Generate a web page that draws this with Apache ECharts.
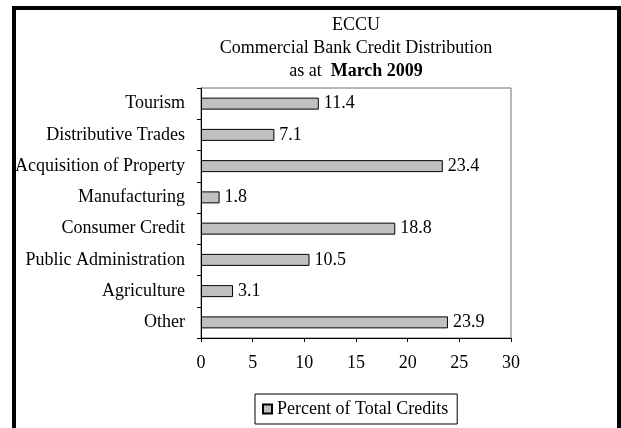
<!DOCTYPE html>
<html>
<head>
<meta charset="utf-8">
<script src="https://cdn.jsdelivr.net/npm/echarts@6/dist/echarts.min.js"></script>
<style>
  html, body { margin: 0; padding: 0; background: #fff; }
  #chart { width: 621px; height: 428px; }
</style>
</head>
<body>
<div id="chart"></div>
<script>
// Sectors, top to bottom
const categories = [
  'Tourism',
  'Distributive Trades',
  'Acquisition of Property',
  'Manufacturing',
  'Consumer Credit',
  'Public Administration',
  'Agriculture',
  'Other'
];
// Share of total commercial bank credit, per cent
const creditShare = [11.4, 7.1, 23.4, 1.8, 18.8, 10.5, 3.1, 23.9];
const seriesName = 'Percent of Total Credits';
const titleLines = ['ECCU', 'Commercial Bank Credit Distribution', 'as at  ', 'March 2009'];
const xTicks = { min: 0, max: 30, interval: 5 };

const FONT = "'Liberation Serif', 'Times New Roman', serif";
const FS = 18;

const chart = echarts.init(document.getElementById('chart'), null, { renderer: 'canvas' });

chart.setOption({
  animation: false,
  backgroundColor: '#ffffff',
  textStyle: { fontFamily: FONT, color: '#000' },
  graphic: [
    {
      type: 'rect',
      shape: { x: 14, y: 8, width: 605, height: 440 },
      style: { fill: 'none', stroke: '#000', lineWidth: 4 },
      silent: true
    },
    {
      type: 'text', x: 356, y: 25,
      style: { text: titleLines[0], font: FS + 'px ' + FONT, fill: '#000', align: 'center', verticalAlign: 'middle' }
    },
    {
      type: 'text', x: 356, y: 48,
      style: { text: titleLines[1], font: FS + 'px ' + FONT, fill: '#000', align: 'center', verticalAlign: 'middle' }
    },
    {
      type: 'text', x: 356, y: 71,
      style: {
        text: '{n|' + titleLines[2] + '}{b|' + titleLines[3] + '}',
        align: 'center', verticalAlign: 'middle', fill: '#000',
        rich: {
          n: { fontFamily: FONT, fontSize: FS, fill: '#000' },
          b: { fontFamily: FONT, fontSize: FS, fontWeight: 'bold', fill: '#000' }
        }
      }
    }
  ],
  grid: {
    left: 201, right: 110, top: 88, bottom: 90,
    show: true, borderColor: '#707070', borderWidth: 1, backgroundColor: '#fff'
  },
  legend: {
    left: 255, top: 394,
    padding: [6, 9, 6, 7],
    borderColor: '#000', borderWidth: 1,
    icon: 'rect', itemWidth: 9, itemHeight: 9,
    textStyle: { fontFamily: FONT, fontSize: FS, color: '#000', lineHeight: 18 },
    data: [seriesName]
  },
  xAxis: {
    type: 'value',
    min: xTicks.min, max: xTicks.max, interval: xTicks.interval,
    axisLine: { show: true, lineStyle: { color: '#000', width: 1 } },
    axisTick: { show: true, inside: false, length: 4, lineStyle: { color: '#000' } },
    splitLine: { show: false },
    axisLabel: { fontFamily: FONT, fontSize: FS, color: '#000', margin: 16, lineHeight: 18 }
  },
  yAxis: {
    type: 'category',
    inverse: true,
    data: categories,
    axisLine: { show: true, lineStyle: { color: '#000', width: 1 } },
    axisTick: { show: true, inside: false, length: 4, alignWithLabel: false, lineStyle: { color: '#000' } },
    axisLabel: { fontFamily: FONT, fontSize: FS, color: '#000', margin: 16 }
  },
  series: [{
    name: seriesName,
    type: 'bar',
    data: creditShare,
    barWidth: 12,
    itemStyle: { color: '#c0c0c0', borderColor: '#000', borderWidth: 1 },
    label: {
      show: true, position: 'right', distance: 5,
      fontFamily: FONT, fontSize: FS, color: '#000',
      formatter: p => p.value.toFixed(1)
    }
  }]
});
</script>
</body>
</html>
